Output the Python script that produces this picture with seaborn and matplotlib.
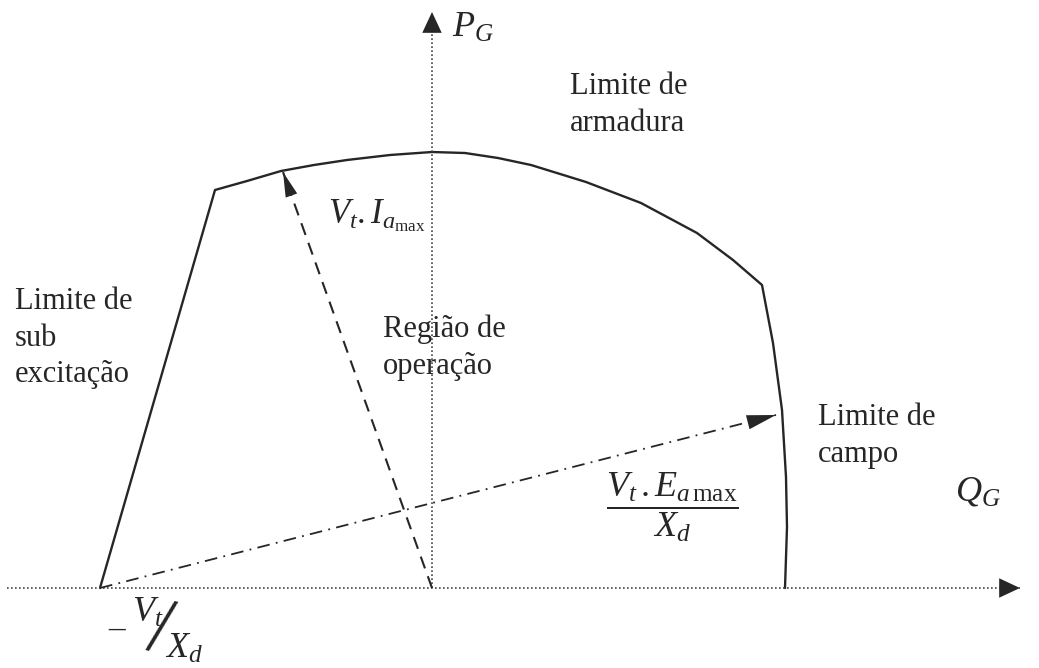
#!/usr/bin/env python3
"""Generator capability chart (P_G x Q_G) with its three operating limits."""
import matplotlib

matplotlib.use("Agg")
import matplotlib.pyplot as plt
import pandas as pd
import seaborn as sns

# boundary of the operating region (Q to the right, P up)
UNDER_Q = [-332, -217]
UNDER_P = [0, 398]
ARMATURE_Q = [-217, -185, -151, -118, -85, -42, 0, 33, 66, 99, 154, 209, 265, 301, 330]
ARMATURE_P = [398, 407, 417, 423, 428, 433, 436, 435, 430, 423, 406, 385, 355, 328, 303]
FIELD_Q = [330, 341, 350, 354, 355, 353]
FIELD_P = [303, 245, 178, 111, 61, 0]

# the two phasors
IA_VECTOR_Q = [0, -149]
IA_VECTOR_P = [0, 416]
EF_VECTOR_Q = [-332, 344]
EF_VECTOR_P = [0, 173]

# axis extents
Q_AXIS = [-425, 588]
P_AXIS = [0, 576]

INK = "#262626"
FS = 22
LS = 1.35


def arrow_head(ax, qs, ps, length, width, scale=20):
    ax.annotate(
        "",
        xy=(qs[1], ps[1]),
        xytext=(qs[0], ps[0]),
        arrowprops=dict(
            arrowstyle=f"-|>,head_length={length},head_width={width}",
            color=INK,
            lw=0,
            shrinkA=0,
            shrinkB=0,
            mutation_scale=scale,
        ),
    )


def main() -> None:
    sns.set_theme(style="white")
    plt.rcParams["font.family"] = ["Liberation Serif", "DejaVu Serif"]
    plt.rcParams["mathtext.fontset"] = "custom"
    plt.rcParams["mathtext.rm"] = "Liberation Serif"
    plt.rcParams["mathtext.it"] = "Liberation Serif:italic"

    fig = plt.figure(figsize=(10.39, 6.68), dpi=100)
    ax = fig.add_axes([0, 0, 1, 1])
    ax.set_xlim(-432, 607)
    ax.set_ylim(-80, 588)
    ax.set_axis_off()

    boundary = pd.concat(
        [
            pd.DataFrame({"q": UNDER_Q, "p": UNDER_P}),
            pd.DataFrame({"q": ARMATURE_Q, "p": ARMATURE_P}),
            pd.DataFrame({"q": FIELD_Q, "p": FIELD_P}),
        ],
        ignore_index=True,
    )
    sns.lineplot(data=boundary, x="q", y="p", sort=False, estimator=None,
                 color=INK, lw=1.7, ax=ax)

    # dotted axes with solid heads
    ax.plot(Q_AXIS, [0, 0], color="#444444", lw=1.2, ls=(0, (1, 1.4)))
    ax.plot([0, 0], P_AXIS, color="#444444", lw=1.2, ls=(0, (1, 1.4)))
    arrow_head(ax, Q_AXIS, [0, 0], 0.75, 0.35)
    arrow_head(ax, [0, 0], P_AXIS, 0.75, 0.35)

    # armature current phasor (dashed) and field phasor (dash-dot)
    ax.plot(IA_VECTOR_Q, IA_VECTOR_P, color=INK, lw=1.5, ls=(0, (6, 4)))
    arrow_head(ax, IA_VECTOR_Q, IA_VECTOR_P, 0.9, 0.22)
    ax.plot(EF_VECTOR_Q, EF_VECTOR_P, color=INK, lw=1.3, ls=(0, (7, 3.5, 1, 3.5)))
    arrow_head(ax, EF_VECTOR_Q, EF_VECTOR_P, 1.05, 0.26)

    # labels
    ax.text(20, 551, r"$P_G$", fontsize=26, va="baseline")
    ax.text(523, 88, r"$Q_G$", fontsize=26, va="baseline")
    ax.text(138, 516, "Limite de\narmadura", fontsize=FS, va="top", linespacing=LS)
    ax.text(-417, 301, "Limite de\nsub\nexcitação", fontsize=FS, va="top", linespacing=LS)
    ax.text(-49, 273, "Região de\noperação", fontsize=FS, va="top", linespacing=LS)
    ax.text(386, 185, "Limite de\ncampo", fontsize=FS, va="top", linespacing=LS)
    ax.text(-104, 365, r"$V_t.I_{a_{\mathrm{max}}}$", fontsize=25, va="baseline")
    ax.text(240, 81, r"$\dfrac{V_t\,.E_{a\,\mathrm{max}}}{X_d}$", fontsize=26,
            ha="center", va="center")

    # -Vt/Xd written with a slash
    ax.text(-315, -41, "\u2013", fontsize=24, ha="center", va="center")
    ax.text(-300, -34, r"$V_t$", fontsize=26, va="baseline")
    ax.text(-272, -44, "/", fontsize=58, ha="center", va="center", rotation=-12)
    ax.text(-267, -70, r"$X_d$", fontsize=26, va="baseline")

    fig.savefig("out.png", dpi=100)
    plt.close(fig)


if __name__ == "__main__":
    main()
